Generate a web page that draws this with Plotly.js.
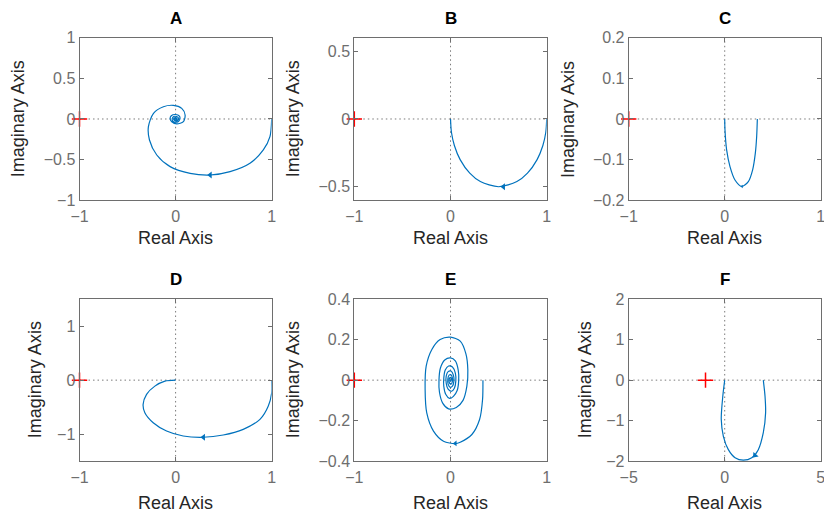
<!DOCTYPE html>
<html>
<head>
<meta charset="utf-8">
<script src="https://cdn.plot.ly/plotly-3.0.1.min.js"></script>
<style>html,body{margin:0;padding:0;background:#fff}#chart{width:824px;height:515px}</style>
</head>
<body>
<div id="chart"></div>
<script>
// ---- Panel titles ----
const panelTitles = ["A", "B", "C", "D", "E", "F"];

// ---- Nyquist curves (real, imaginary) ----
const aRe = [1.0, 0.982, 0.913, 0.774, 0.567, 0.359, 0.151, -0.057, -0.196, -0.272, -0.283, -0.230, -0.127, -0.023, 0.064, 0.099, 0.081, 0.012, -0.040, -0.057, -0.045, 0.0, 0.040, 0.045, 0.030, 0.0, -0.030, -0.035, -0.020, 0.010, 0.030, 0.025, 0.005, -0.015, -0.020, -0.005, 0.012, 0.014, 0.0, -0.010, -0.004, 0.006, 0.0];
const aIm = [0.0, -0.217, -0.381, -0.545, -0.648, -0.689, -0.668, -0.586, -0.443, -0.258, -0.094, 0.070, 0.151, 0.168, 0.131, 0.049, -0.033, -0.061, -0.033, 0.0, 0.040, 0.055, 0.035, 0.0, -0.030, -0.040, -0.025, 0.005, 0.030, 0.030, 0.010, -0.015, -0.025, -0.015, 0.005, 0.018, 0.012, -0.005, -0.012, -0.003, 0.008, 0.004, 0.0];

const bRe = [1.0, 0.99, 0.96, 0.9, 0.8, 0.69, 0.5, 0.31, 0.2, 0.1, 0.04, 0.01, 0.0];
const bIm = [0.0, -0.1, -0.196, -0.3, -0.4, -0.462, -0.5, -0.462, -0.4, -0.3, -0.196, -0.1, 0.0];

const cRe = [0.34, 0.333, 0.319, 0.291, 0.246, 0.177, 0.107, 0.055, 0.02, 0.003, 0.0];
const cIm = [0.0, -0.043, -0.084, -0.125, -0.154, -0.166, -0.150, -0.117, -0.076, -0.027, 0.0];

const dRe = [1.0, 1.0, 0.965, 0.878, 0.704, 0.496, 0.288, 0.079, -0.094, -0.233, -0.320, -0.338, -0.302, -0.216, -0.111, 0.0];
const dIm = [0.0, -0.234, -0.48, -0.728, -0.913, -1.018, -1.06, -1.036, -0.944, -0.79, -0.605, -0.45, -0.265, -0.111, -0.018, 0.0];

const eRe = [0.337, 0.333, 0.302, 0.222, 0.101, 0.049, -0.073, -0.177, -0.247, -0.264, -0.253, -0.194, -0.108, 0.0, 0.101, 0.160, 0.180, 0.170, 0.130, 0.060, -0.020, -0.080, -0.115, -0.120, -0.105, -0.060, 0.0, 0.050, 0.080, 0.085, 0.070, 0.030, -0.010, -0.050, -0.070, -0.070, -0.055, -0.020, 0.020, 0.050, 0.055, 0.040, 0.010, -0.025, -0.045, -0.045, -0.025, 0.005, 0.030, 0.035, 0.020, -0.005, -0.025, -0.028, -0.015, 0.005, 0.020, 0.018, 0.005, -0.010, -0.015, -0.008, 0.005, 0.008, 0.0, 0.0];
const eIm = [0.0, -0.096, -0.195, -0.269, -0.307, -0.314, -0.302, -0.252, -0.162, -0.046, 0.069, 0.152, 0.201, 0.213, 0.193, 0.130, 0.050, -0.030, -0.100, -0.135, -0.142, -0.115, -0.060, 0.0, 0.060, 0.100, 0.110, 0.095, 0.050, 0.0, -0.050, -0.080, -0.090, -0.070, -0.030, 0.010, 0.050, 0.070, 0.065, 0.035, -0.005, -0.040, -0.055, -0.045, -0.015, 0.020, 0.042, 0.045, 0.025, -0.005, -0.030, -0.035, -0.020, 0.005, 0.025, 0.027, 0.010, -0.010, -0.020, -0.015, 0.0, 0.012, 0.012, 0.0, -0.006, 0.0];

const fRe = [2.01, 2.1, 2.13, 2.01, 1.75, 1.41, 0.97, 0.54, 0.19, -0.07, -0.18, -0.1, 0.0];
const fIm = [0.0, -0.4, -0.81, -1.3, -1.72, -1.92, -1.98, -1.92, -1.72, -1.39, -0.97, -0.4, 0.0];

// ---- Direction arrows (position, angle, size) ----
const arrowRe = [0.36, 0.55, 0.18, 0.29, 0.05, 1.58];
const arrowIm = [-0.689, -0.5, -0.166, -1.06, -0.313, -1.86];
const arrowAngle = [0, 0, 0, 0, 0, -50];
const arrowSize = [6, 6, 3, 6, 5, 6];

// ---- Axes ranges and ticks ----
const xRanges = [[-1, 1], [-1, 1], [-1, 1], [-1, 1], [-1, 1], [-5, 5]];
const yRanges = [[-1, 1], [-0.6, 0.6], [-0.2, 0.2], [-1.5, 1.5], [-0.4, 0.4], [-2, 2]];
const xTickVals = [[-1, 0, 1], [-1, 0, 1], [-1, 0, 1], [-1, 0, 1], [-1, 0, 1], [-5, 0, 5]];
const xTickText = [["−1", "0", "1"], ["−1", "0", "1"], ["−1", "0", "1"], ["−1", "0", "1"], ["−1", "0", "1"], ["−5", "0", "5"]];
const yTickVals = [[-1, -0.5, 0, 0.5, 1], [-0.5, 0, 0.5], [-0.2, -0.1, 0, 0.1, 0.2], [-1, 0, 1], [-0.4, -0.2, 0, 0.2, 0.4], [-2, -1, 0, 1, 2]];
const yTickText = [["−1", "−0.5", "0", "0.5", "1"], ["−0.5", "0", "0.5"], ["−0.2", "−0.1", "0", "0.1", "0.2"], ["−1", "0", "1"], ["−0.4", "−0.2", "0", "0.2", "0.4"], ["−2", "−1", "0", "1", "2"]];

// critical point
const critRe = -1, critIm = 0;

const curvesRe = [aRe, bRe, cRe, dRe, eRe, fRe];
const curvesIm = [aIm, bIm, cIm, dIm, eIm, fIm];

const FONT = "Liberation Sans, Arial, Helvetica, sans-serif";
const BLUE = "#0072BD";
const GRAY = "#6e6e6e";

const xDomains = [[0.0965, 0.3297], [0.4300, 0.6635], [0.7630, 0.9960]];
const yDomains = [[0.6111, 0.9268], [0.1049, 0.4188]];
const ylabX = [0.0222, 0.356, 0.6893, 0.0425, 0.3556, 0.71];

const traces = [];
const layout = {
  width: 824, height: 515,
  margin: {l: 0, r: 0, t: 0, b: 0},
  paper_bgcolor: "#fff", plot_bgcolor: "#fff",
  showlegend: false,
  font: {family: FONT},
  annotations: [], shapes: []
};

for (let i = 0; i < 6; i++) {
  const n = i + 1;
  const xa = n === 1 ? "x" : "x" + n;
  const ya = n === 1 ? "y" : "y" + n;
  const col = i % 3, row = Math.floor(i / 3);
  const axBase = {
    showgrid: false, zeroline: false, showline: true, mirror: "ticks",
    ticks: "inside", ticklen: 4, tickwidth: 1, tickcolor: GRAY, linecolor: GRAY, linewidth: 1,
    tickfont: {size: 16, color: GRAY, family: FONT}, fixedrange: true, ticklabeloverflow: "allow"
  };
  layout["xaxis" + (n === 1 ? "" : n)] = Object.assign({}, axBase, {
    domain: xDomains[col], range: xRanges[i], tickvals: xTickVals[i], ticktext: xTickText[i], anchor: ya,
    ticklabelstandoff: 2
  });
  layout["yaxis" + (n === 1 ? "" : n)] = Object.assign({}, axBase, {
    domain: yDomains[row], range: yRanges[i], tickvals: yTickVals[i], ticktext: yTickText[i], anchor: xa
  });

  // dotted zero lines
  layout.shapes.push({type: "line", xref: xa + " domain", yref: ya, x0: 0, x1: 1, y0: 0, y1: 0,
    line: {color: "#7a7a7a", width: 1, dash: "1.5px,3px"}, layer: "below"});
  layout.shapes.push({type: "line", xref: xa, yref: ya + " domain", x0: 0, x1: 0, y0: 0, y1: 1,
    line: {color: "#7a7a7a", width: 1, dash: "1.5px,3px"}, layer: "below"});

  traces.push({x: curvesRe[i], y: curvesIm[i], xaxis: xa, yaxis: ya, mode: "lines", type: "scatter",
    line: {color: BLUE, width: 1.2, shape: "spline", smoothing: 0.8}, hoverinfo: "skip"});
  traces.push({x: [arrowRe[i]], y: [arrowIm[i]], xaxis: xa, yaxis: ya, mode: "markers", type: "scatter",
    marker: {symbol: "triangle-left", size: arrowSize[i], color: BLUE, angle: arrowAngle[i]}, hoverinfo: "skip"});
  traces.push({x: [critRe], y: [critIm], xaxis: xa, yaxis: ya, mode: "markers", type: "scatter", cliponaxis: false,
    marker: {symbol: "cross-thin", size: 11, line: {color: "#ff0000", width: 1.5}}, hoverinfo: "skip"});

  const cx = (xDomains[col][0] + xDomains[col][1]) / 2;
  layout.annotations.push({text: "<b>" + panelTitles[i] + "</b>", xref: "paper", yref: "paper",
    x: cx, y: row === 0 ? 0.9635 : 0.457, showarrow: false, xanchor: "center", yanchor: "middle",
    font: {size: 17, color: "#000", family: FONT}});
  layout.annotations.push({text: "Real Axis", xref: "paper", yref: "paper",
    x: cx, y: row === 0 ? 0.5379 : 0.0239, showarrow: false, xanchor: "center", yanchor: "middle",
    font: {size: 18, color: "#262626", family: FONT}});
  layout.annotations.push({text: "Imaginary Axis", xref: "paper", yref: "paper", textangle: -90,
    x: ylabX[i], y: (yDomains[row][0] + yDomains[row][1]) / 2, showarrow: false, xanchor: "center", yanchor: "middle",
    font: {size: 18, color: "#262626", family: FONT}});
}

Plotly.newPlot("chart", traces, layout, {staticPlot: true, displayModeBar: false});
</script>
</body>
</html>
